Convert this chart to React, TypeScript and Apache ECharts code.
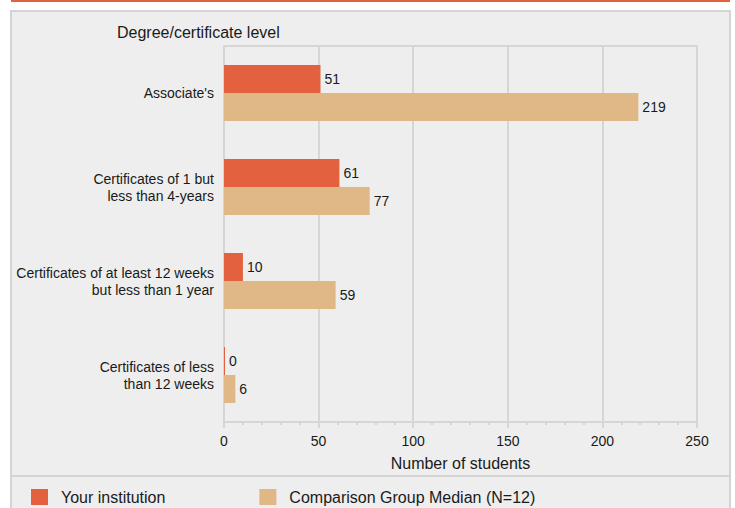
import React, { useEffect, useRef } from "react";
import * as echarts from "echarts";

const categories = [
  "Associate's",
  "Certificates of 1 but\nless than 4-years",
  "Certificates of at least 12 weeks\nbut less than 1 year",
  "Certificates of less\nthan 12 weeks",
];
const yourInstitution = [51, 61, 10, 0];
const comparisonMedian = [219, 77, 59, 6];
const seriesNames = ["Your institution", "Comparison Group Median (N=12)"];
const xTicks = { min: 0, max: 250, interval: 50 };

const FONT = "'Liberation Sans', Arial, Helvetica, sans-serif";
const RED = "#E3613F";
const TAN = "#DFB886";
const TEXT = "#1a1a1a";
const GRIDC = "#d6d6d6";

export default function App() {
  const ref = useRef<HTMLDivElement>(null);
  useEffect(() => {
    if (!ref.current) return;
    const chart = echarts.init(ref.current, undefined, { renderer: "svg" });
    chart.setOption({
      animation: false,
      backgroundColor: "#ffffff",
      textStyle: { fontFamily: FONT },
      graphic: [
        { type: "rect", z: -10, shape: { x: 11, y: 0, width: 719, height: 2 }, style: { fill: RED } },
        {
          type: "rect",
          z: -10,
          shape: { x: 11, y: 11, width: 719, height: 510 },
          style: { fill: "#eeeeee", stroke: "#d4d4d4", lineWidth: 2 },
        },
        {
          type: "line",
          z: -9,
          shape: { x1: 11, y1: 476, x2: 730, y2: 476 },
          style: { stroke: "#d4d4d4", lineWidth: 2 },
        },
      ],
      title: {
        text: "Degree/certificate level",
        left: 112,
        top: 19,
        textStyle: { fontFamily: FONT, fontSize: 16, fontWeight: "normal", color: TEXT },
      },
      legend: {
        left: 26,
        top: 484,
        itemWidth: 17,
        itemHeight: 16,
        itemGap: 94,
        icon: "rect",
        data: seriesNames,
        textStyle: { fontFamily: FONT, fontSize: 16, color: TEXT, padding: [0, 0, 0, 8] },
      },
      grid: {
        left: 224,
        right: 38,
        top: 46,
        bottom: 86,
        show: true,
        borderColor: GRIDC,
        borderWidth: 2,
        backgroundColor: "transparent",
      },
      xAxis: {
        type: "value",
        min: xTicks.min,
        max: xTicks.max,
        interval: xTicks.interval,
        name: "Number of students",
        nameLocation: "middle",
        nameGap: 33,
        nameTextStyle: { fontFamily: FONT, fontSize: 16, color: TEXT },
        axisLine: { show: true, lineStyle: { color: GRIDC, width: 2 } },
        axisTick: { show: true, length: 6, lineStyle: { color: GRIDC, width: 2 } },
        minorTick: { show: true, splitNumber: 5, length: 3, lineStyle: { color: GRIDC, width: 2 } },
        axisLabel: { fontFamily: FONT, fontSize: 14, color: TEXT, margin: 12 },
        splitLine: { show: true, lineStyle: { color: GRIDC, width: 2 } },
      },
      yAxis: {
        type: "category",
        inverse: true,
        data: categories,
        axisLine: { show: false },
        axisTick: { show: false },
        splitLine: { show: false },
        axisLabel: {
          fontFamily: FONT,
          fontSize: 14,
          color: TEXT,
          margin: 10,
          lineHeight: 17,
          align: "right",
        },
      },
      series: [
        {
          name: seriesNames[0],
          type: "bar",
          data: yourInstitution,
          barWidth: 28,
          barGap: "0%",
          barMinHeight: 1,
          itemStyle: { color: RED },
          label: { show: true, position: "right", distance: 4, fontFamily: FONT, fontSize: 14, color: TEXT },
        },
        {
          name: seriesNames[1],
          type: "bar",
          data: comparisonMedian,
          barWidth: 28,
          barGap: "0%",
          itemStyle: { color: TAN },
          label: { show: true, position: "right", distance: 4, fontFamily: FONT, fontSize: 14, color: TEXT },
        },
      ],
    });
    return () => chart.dispose();
  }, []);
  return (
    <div
      ref={ref}
      style={{ position: "fixed", left: 0, top: 0, width: 735, height: 508 }}
    />
  );
}
